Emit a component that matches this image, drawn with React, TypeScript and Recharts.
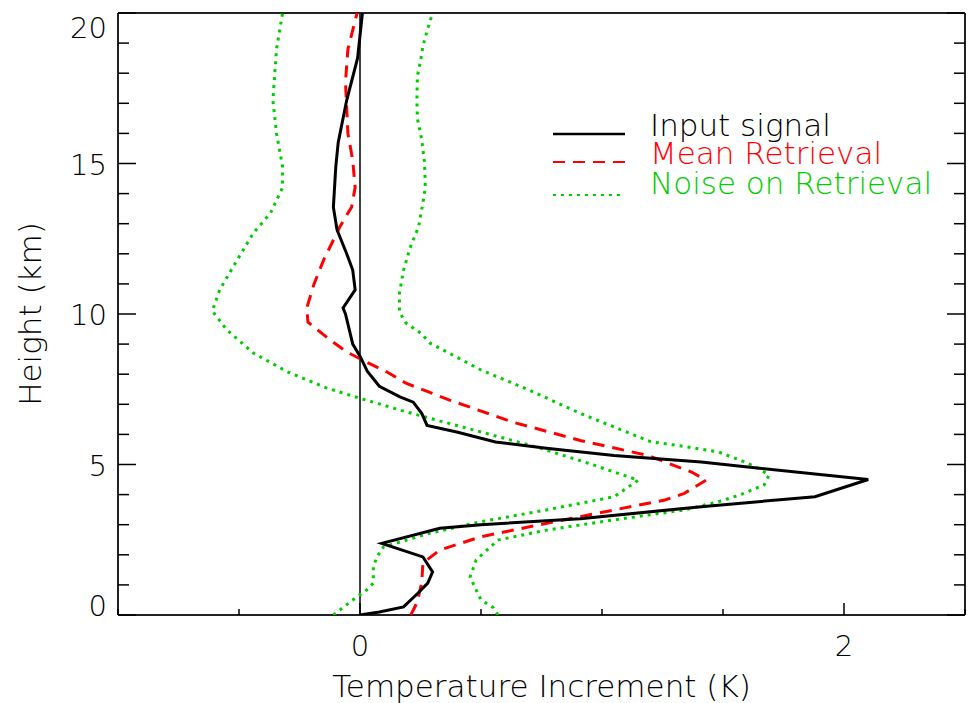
import React from 'react';
import { Legend, ReferenceLine, Scatter, ScatterChart, XAxis, YAxis } from 'recharts';

// profiles: heights (km) and temperature increments (K)
const inputHeights = [0, 0.1, 0.27, 0.73, 1.06, 1.43, 1.93, 2.38, 2.88, 3.0, 3.2, 3.6, 3.93, 4.5, 5.08, 5.3, 5.54, 5.75, 6.08, 6.3, 6.7, 7.07, 7.25, 7.6, 8.1, 8.6, 9.0, 10.0, 10.2, 10.8, 11.46, 12.0, 12.8, 13.55, 14.9, 15.7, 17.1, 18.5, 20];
const inputTemps = [0, 0.08, 0.18, 0.24, 0.28, 0.3, 0.26, 0.09, 0.33, 0.5, 0.91, 1.41, 1.88, 2.1, 1.41, 1.05, 0.77, 0.56, 0.4, 0.277, 0.255, 0.22, 0.165, 0.08, 0.03, 0, -0.03, -0.06, -0.07, -0.02, -0.03, -0.055, -0.095, -0.11, -0.1, -0.09, -0.055, -0.01, 0.01];

const meanHeights = [0, 0.4, 1.06, 1.73, 2.16, 2.6, 2.93, 3.49, 3.82, 4.04, 4.48, 4.75, 5.3, 5.8, 6.4, 7.14, 7.7, 8.08, 8.4, 8.74, 9.14, 9.73, 10.2, 11.0, 11.8, 12.9, 13.55, 14.2, 15.1, 16.0, 17.7, 18.8, 20];
const meanTemps = [0.21, 0.235, 0.255, 0.26, 0.33, 0.5, 0.7, 1.05, 1.26, 1.34, 1.43, 1.37, 1.19, 0.91, 0.635, 0.37, 0.19, 0.11, 0.027, -0.055, -0.124, -0.215, -0.22, -0.19, -0.15, -0.083, -0.035, -0.02, -0.03, -0.05, -0.06, -0.05, -0.012];

const lowHeights = [0, 0.5, 0.83, 1.06, 1.6, 1.93, 2.26, 2.72, 3.1, 3.49, 3.93, 4.48, 5.05, 5.58, 6.08, 6.75, 7.2, 7.54, 8.08, 8.7, 9.47, 10.1, 10.8, 11.56, 12.7, 13.35, 14.2, 14.9, 16.0, 17.1, 18.8, 20];
const lowTemps = [-0.11, -0.03, 0.027, 0.055, 0.055, 0.07, 0.097, 0.29, 0.5, 0.77, 1.05, 1.15, 0.94, 0.73, 0.5, 0.19, 0, -0.137, -0.3, -0.44, -0.55, -0.61, -0.58, -0.525, -0.44, -0.37, -0.32, -0.32, -0.345, -0.36, -0.345, -0.32];

const highHeights = [0, 0.25, 0.5, 1.26, 1.83, 2.49, 2.82, 3.16, 3.49, 3.76, 3.99, 4.32, 4.65, 4.9, 5.15, 5.42, 5.6, 5.76, 6.7, 7.47, 8.14, 9.03, 9.37, 9.7, 10.07, 10.7, 11.46, 12.2, 12.9, 13.7, 14.2, 15.0, 15.8, 16.5, 17.1, 17.9, 18.4, 18.9, 19.4, 20];
const highTemps = [0.57, 0.55, 0.5, 0.455, 0.48, 0.57, 0.77, 1.05, 1.34, 1.48, 1.57, 1.67, 1.69, 1.64, 1.57, 1.48, 1.34, 1.2, 0.91, 0.7, 0.5, 0.29, 0.25, 0.19, 0.163, 0.163, 0.18, 0.207, 0.242, 0.26, 0.27, 0.267, 0.255, 0.237, 0.235, 0.237, 0.25, 0.26, 0.277, 0.3];

const xTicks = [-1, -0.5, 0, 0.5, 1, 1.5, 2, 2.5];
const xLabelled = [0, 2];
const yTicks = [0, 1, 2, 3, 4, 5, 6, 7, 8, 9, 10, 11, 12, 13, 14, 15, 16, 17, 18, 19, 20];
const yLabelled = [0, 5, 10, 15, 20];

const legendNames = ['Input signal', 'Mean Retrieval', 'Noise on Retrieval'];
const legendColors = ['#000000', '#ff0000', '#00cc00'];
const legendDashes = ['none', '12 8', '3 5'];

const FONT = '"DejaVu Sans", sans-serif';
const GREEN = '#00cc00';

const toPoints = (hs: number[], ts: number[]) => hs.map((h, i) => ({ h, t: ts[i] }));

const noShape = () => <g />;

const BottomTick = ({ x, y, payload }: any) => {
  const major = xLabelled.includes(payload.value);
  return (
    <g>
      <line x1={x} x2={x} y1={y} y2={y - (major ? 12 : 6)} stroke="#000" strokeWidth={1.5} />
      {major && (
        <text x={x} y={y + 41} textAnchor="middle" fontFamily={FONT} fontSize={29} fontWeight={200} fill="#000">
          {payload.value}
        </text>
      )}
    </g>
  );
};

const TopTick = ({ x, y, payload }: any) => {
  const major = xLabelled.includes(payload.value);
  return <line x1={x} x2={x} y1={y} y2={y + (major ? 12 : 6)} stroke="#000" strokeWidth={1.5} />;
};

const LeftTick = ({ x, y, payload }: any) => {
  const major = yLabelled.includes(payload.value);
  let shift = 0;
  if (payload.value === 20) shift = 14;
  if (payload.value === 0) shift = -10;
  return (
    <g>
      <line x1={x} x2={x + (major ? 18 : 11)} y1={y} y2={y} stroke="#000" strokeWidth={1.5} />
      {major && (
        <text x={x - 11} y={y + 11 + shift} textAnchor="end" fontFamily={FONT} fontSize={29} fontWeight={200} fill="#000">
          {payload.value}
        </text>
      )}
    </g>
  );
};

const RightTick = ({ x, y, payload }: any) => {
  const major = yLabelled.includes(payload.value);
  return <line x1={x} x2={x - (major ? 18 : 11)} y1={y} y2={y} stroke="#000" strokeWidth={1.5} />;
};

const HeightLabel = ({ viewBox }: any) => {
  const cx = viewBox.x + 30;
  const cy = viewBox.y + viewBox.height / 2;
  return (
    <text x={cx} y={cy} transform={`rotate(-90 ${cx} ${cy})`} textAnchor="middle" dominantBaseline="central"
      fontFamily={FONT} fontSize={31} fontWeight={200} fill="#000">
      Height (km)
    </text>
  );
};

const TempLabel = ({ viewBox }: any) => (
  <text x={viewBox.x + viewBox.width / 2} y={viewBox.y + 82} textAnchor="middle"
    fontFamily={FONT} fontSize={31} fontWeight={200} fill="#000">
    Temperature Increment (K)
  </text>
);

const ChartLegend = () => (
  <svg width={420} height={110} style={{ display: 'block', overflow: 'visible' }}>
    {legendNames.map((name, i) => {
      const lineY = [29, 57, 90][i];
      const textY = [31, 59, 89][i];
      return (
        <g key={name}>
          <line x1={8} x2={80} y1={lineY} y2={lineY} stroke={legendColors[i]} strokeWidth={i === 0 ? 2.5 : 2}
            strokeDasharray={legendDashes[i]} />
          <text x={105} y={textY} fontFamily={FONT} fontSize={31} fontWeight={200} fill={legendColors[i]}>
            {name}
          </text>
        </g>
      );
    })}
  </svg>
);

export default function App() {
  return (
    <div style={{ position: 'absolute', left: 0, top: 0, background: '#fff' }}>
      <ScatterChart width={971} height={703} margin={{ top: 0, right: 0, bottom: 0, left: 0 }}>
        <XAxis
          type="number"
          dataKey="t"
          domain={[-1, 2.5]}
          ticks={xTicks}
          interval={0}
          allowDataOverflow
          height={88}
          tickSize={0}
          tickMargin={0}
          tickLine={false}
          tick={<BottomTick />}
          axisLine={{ stroke: '#222', strokeWidth: 2 }}
          label={<TempLabel />}
        />
        <XAxis
          xAxisId="top"
          orientation="top"
          type="number"
          domain={[-1, 2.5]}
          ticks={xTicks}
          interval={0}
          allowDataOverflow
          height={13}
          tickSize={0}
          tickMargin={0}
          tickLine={false}
          tick={<TopTick />}
          axisLine={{ stroke: '#222', strokeWidth: 2 }}
        />
        <YAxis
          type="number"
          dataKey="h"
          domain={[0, 20]}
          ticks={yTicks}
          interval={0}
          allowDataOverflow
          width={118}
          tickSize={0}
          tickMargin={0}
          tickLine={false}
          tick={<LeftTick />}
          axisLine={{ stroke: '#222', strokeWidth: 2 }}
          label={<HeightLabel />}
        />
        <YAxis
          yAxisId="right"
          orientation="right"
          type="number"
          domain={[0, 20]}
          ticks={yTicks}
          interval={0}
          allowDataOverflow
          width={6}
          tickSize={0}
          tickMargin={0}
          tickLine={false}
          tick={<RightTick />}
          axisLine={{ stroke: '#222', strokeWidth: 2 }}
        />
        <ReferenceLine x={0} stroke="#000" strokeWidth={1.5} />
        <Scatter
          name="Noise on Retrieval"
          data={toPoints(lowHeights, lowTemps)}
          line={{ stroke: GREEN, strokeWidth: 3, strokeDasharray: '3 5' }}
          shape={noShape}
          isAnimationActive={false}
        />
        <Scatter
          name="Noise on Retrieval high"
          data={toPoints(highHeights, highTemps)}
          line={{ stroke: GREEN, strokeWidth: 3, strokeDasharray: '3 5' }}
          shape={noShape}
          isAnimationActive={false}
        />
        <Scatter
          name="Mean Retrieval"
          data={toPoints(meanHeights, meanTemps)}
          line={{ stroke: '#ff0000', strokeWidth: 3, strokeDasharray: '12 8' }}
          shape={noShape}
          isAnimationActive={false}
        />
        <Scatter
          name="Input signal"
          data={toPoints(inputHeights, inputTemps)}
          line={{ stroke: '#000', strokeWidth: 3 }}
          shape={noShape}
          isAnimationActive={false}
        />
        <Legend
          layout="vertical"
          align="center"
          verticalAlign="middle"
          content={<ChartLegend />}
          wrapperStyle={{ position: 'absolute', left: 545, top: 105, width: 420, height: 0, overflow: 'visible' }}
        />
      </ScatterChart>
    </div>
  );
}
